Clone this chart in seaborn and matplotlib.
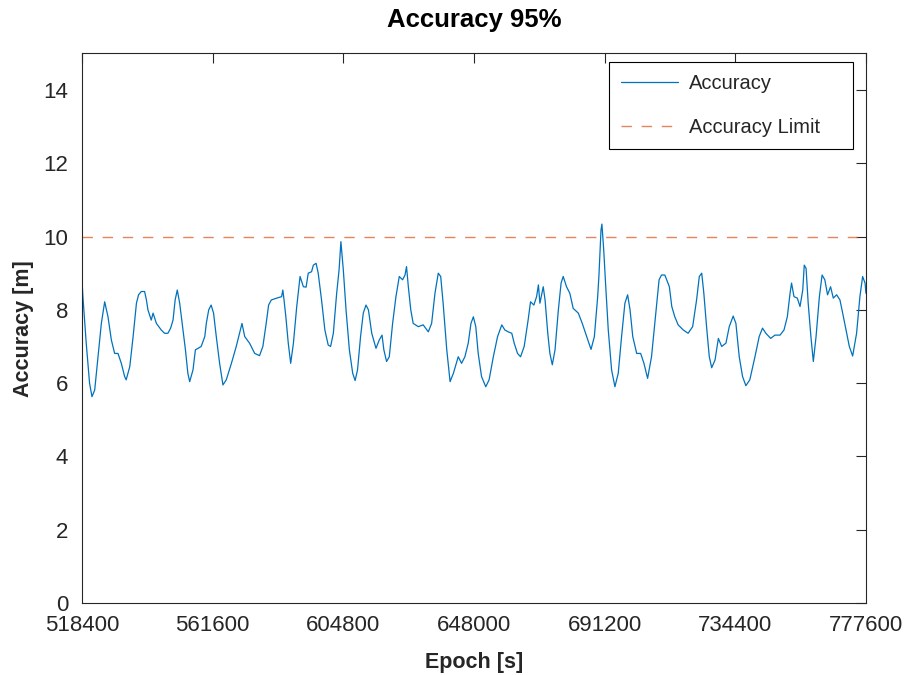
import numpy as np
import pandas as pd
import matplotlib
matplotlib.use("Agg")
import matplotlib.pyplot as plt
import seaborn as sns

# ---- data ----
epoch = [
    518400, 518700, 519800, 520900, 521700, 522600, 523700, 524800, 525900, 527000,
    528100, 529200, 530300, 531400, 532500, 533000, 534200, 535300, 536400, 537100,
    538000, 539100, 539700, 540200, 541300, 541900, 543000, 544600, 545700, 546800,
    547700, 548500, 549200, 549900, 550700, 551800, 552600, 553400, 554000, 555100,
    555900, 556800, 557800, 559000, 559500, 560300, 561100, 561900, 562800, 563900,
    565000, 566100, 567800, 569400, 570500, 571300, 572200, 573800, 575500, 577100,
    578200, 579300, 580100, 581000, 582800, 584400, 584800, 585200, 585800, 586600,
    587400, 588300, 589400, 590500, 591600, 592500, 593200, 594300, 594900, 595800,
    596500, 597600, 598700, 599800, 600600, 601500, 602600, 603400, 604000, 604800,
    605700, 606800, 607900, 608700, 609500, 610500, 611400, 612300, 613100, 614200,
    615600, 616700, 617600, 618200, 619100, 620000, 621100, 622200, 623300, 624400,
    625200, 625700, 626300, 627100, 627900, 629600, 631200, 632900, 634000, 635100,
    636200, 637000, 637800, 639000, 640100, 641200, 642800, 643900, 645000, 646100,
    647000, 647800, 648600, 649400, 650500, 651900, 653000, 654400, 655800, 657200,
    658200, 659300, 660500, 661300, 662400, 663400, 664600, 665900, 666700, 667800,
    668700, 669300, 669800, 670900, 671500, 672400, 673100, 673900, 674800, 675900,
    676800, 677500, 678600, 679700, 680800, 682500, 683800, 684900, 686000, 686700,
    687800, 688900, 689300, 690000, 690300, 690900, 691500, 692400, 693500, 694600,
    695700, 696800, 697900, 698800, 699600, 700500, 701800, 703100, 704200, 705400,
    706700, 708100, 709200, 710000, 711100, 712600, 713400, 714400, 715500, 717200,
    718800, 720300, 721600, 722500, 723300, 724000, 724900, 725800, 726600, 727700,
    728800, 729900, 731300, 732400, 733700, 734600, 735700, 736800, 737900, 739200,
    740900, 742300, 743400, 744500, 746100, 747500, 749200, 750500, 751600, 752500,
    753000, 753800, 754900, 755800, 756700, 757200, 757800, 758500, 759400, 760200,
    761100, 762200, 763100, 764000, 764900, 765900, 766800, 767900, 769000, 769900,
    771000, 772100, 773200, 774500, 775600, 776500, 777300, 777600,
]
accuracy = [
    8.82, 8.36, 7.09, 6.00, 5.63, 5.81, 6.72, 7.63, 8.22, 7.81,
    7.18, 6.81, 6.81, 6.54, 6.18, 6.09, 6.45, 7.27, 8.18, 8.41,
    8.50, 8.50, 8.27, 8.00, 7.72, 7.91, 7.63, 7.45, 7.36, 7.36,
    7.50, 7.72, 8.27, 8.54, 8.18, 7.45, 6.91, 6.27, 6.04, 6.36,
    6.91, 6.95, 7.00, 7.27, 7.63, 8.00, 8.13, 7.91, 7.27, 6.54,
    5.95, 6.09, 6.54, 7.00, 7.36, 7.63, 7.27, 7.09, 6.81, 6.75,
    7.00, 7.63, 8.13, 8.27, 8.32, 8.36, 8.54, 8.27, 7.81, 7.09,
    6.54, 7.09, 8.09, 8.91, 8.63, 8.62, 9.00, 9.04, 9.22, 9.27,
    9.00, 8.27, 7.45, 7.04, 7.00, 7.36, 8.45, 9.09, 9.86, 9.09,
    8.00, 6.91, 6.27, 6.07, 6.36, 7.27, 7.91, 8.13, 8.00, 7.36,
    6.95, 7.18, 7.31, 6.91, 6.59, 6.72, 7.63, 8.36, 8.91, 8.82,
    8.95, 9.18, 8.63, 8.00, 7.63, 7.54, 7.59, 7.40, 7.63, 8.45,
    9.00, 8.91, 8.18, 6.91, 6.04, 6.27, 6.72, 6.54, 6.72, 7.09,
    7.63, 7.81, 7.54, 6.81, 6.18, 5.90, 6.09, 6.72, 7.27, 7.59,
    7.45, 7.40, 7.36, 7.09, 6.81, 6.72, 7.00, 7.72, 8.22, 8.13,
    8.36, 8.68, 8.18, 8.63, 8.27, 7.36, 6.81, 6.50, 6.91, 8.00,
    8.73, 8.91, 8.63, 8.45, 8.04, 7.91, 7.63, 7.36, 7.09, 6.92,
    7.27, 8.36, 8.91, 10.18, 10.34, 9.63, 8.73, 7.45, 6.36, 5.90,
    6.27, 7.27, 8.18, 8.41, 8.00, 7.27, 6.81, 6.81, 6.54, 6.13,
    6.72, 7.91, 8.82, 8.95, 8.95, 8.63, 8.09, 7.81, 7.59, 7.45,
    7.36, 7.54, 8.27, 8.91, 9.00, 8.45, 7.54, 6.72, 6.42, 6.63,
    7.22, 7.00, 7.09, 7.54, 7.83, 7.63, 6.72, 6.18, 5.93, 6.09,
    6.72, 7.27, 7.50, 7.36, 7.22, 7.31, 7.31, 7.45, 7.81, 8.45,
    8.73, 8.36, 8.32, 8.09, 8.54, 9.22, 9.13, 8.18, 7.27, 6.59,
    7.27, 8.36, 8.95, 8.82, 8.41, 8.63, 8.32, 8.41, 8.27, 7.91,
    7.45, 7.00, 6.74, 7.36, 8.36, 8.91, 8.73, 8.45,
]
limit_epoch = [518400, 777600]
limit_value = [10, 10]
x_ticks = [518400, 561600, 604800, 648000, 691200, 734400, 777600]
y_ticks = [0, 2, 4, 6, 8, 10, 12, 14]

title = "Accuracy 95%"
x_label = "Epoch [s]"
y_label = "Accuracy [m]"
series_names = ["Accuracy", "Accuracy Limit"]

# ---- style ----
sns.set_theme(style="white")
plt.rcParams["font.family"] = ["Liberation Sans", "DejaVu Sans"]
dark = "#262626"

fig = plt.figure(figsize=(9.08, 6.75), dpi=100)
ax = fig.add_axes([0.0903, 0.1067, 0.8634, 0.8143])

df = pd.DataFrame({"epoch": epoch, "acc": accuracy})
dl = pd.DataFrame({"epoch": limit_epoch, "lim": limit_value})

sns.lineplot(data=df, x="epoch", y="acc", ax=ax, color="#0072BD",
             linewidth=0.9, label=series_names[0])
sns.lineplot(data=dl, x="epoch", y="lim", ax=ax, color="#D95319",
             linewidth=1.0, alpha=0.7, label=series_names[1])
ax.lines[1].set_linestyle((0, (7.5, 7)))

ax.set_xlim(518400, 777600)
ax.set_ylim(0, 15)
ax.set_xticks(x_ticks)
ax.set_xticklabels([str(v) for v in x_ticks])
ax.set_yticks(y_ticks)
ax.set_yticklabels([str(v) for v in y_ticks])

ax.tick_params(axis="both", which="both", direction="in", length=7, width=0.8,
               colors=dark, labelsize=16, top=True, right=True)
ax.tick_params(axis="x", pad=8.5)
ax.tick_params(axis="y", pad=10)
ax.tick_params(axis="both", labelcolor=dark)
for s in ax.spines.values():
    s.set_visible(True)
    s.set_color(dark)
    s.set_linewidth(0.8)

ax.set_xlabel(x_label, fontsize=15.5, fontweight="bold", color=dark, labelpad=12)
ax.set_ylabel(y_label, fontsize=15.5, fontweight="bold", color=dark, labelpad=6.5)
ax.set_title(title, fontsize=18.5, fontweight="bold", color="black", pad=19)

leg = ax.legend(loc="upper left", bbox_to_anchor=(0.672, 0.5, 0.311, 0.4836),
                mode="expand", borderaxespad=0,
                fontsize=14.5, frameon=True, fancybox=False,
                edgecolor="black", framealpha=1, handlelength=2.85,
                handletextpad=0.55, labelspacing=1.2, borderpad=0.6)
leg.get_frame().set_linewidth(0.8)
for t in leg.get_texts():
    t.set_color(dark)

fig.savefig("out.png", dpi=100)
